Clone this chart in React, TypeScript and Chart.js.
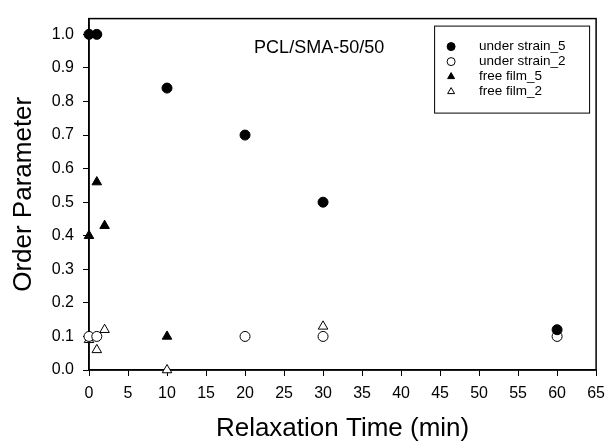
import React, { useEffect, useRef } from 'react';
import { Chart, registerables } from 'chart.js';
import { drawPoint } from 'chart.js/helpers';

Chart.register(...registerables);

const FONT = "'Liberation Sans', Arial, Helvetica, sans-serif";

const chartTitle = 'PCL/SMA-50/50';
const xAxisTitle = 'Relaxation Time (min)';
const yAxisTitle = 'Order Parameter';

const seriesNames = ['under strain_5', 'under strain_2', 'free film_5', 'free film_2'];

const underStrain5X = [0, 1, 10, 20, 30, 60];
const underStrain5Y = [1.0, 1.0, 0.84, 0.7, 0.5, 0.12];

const underStrain2X = [0, 1, 20, 30, 60];
const underStrain2Y = [0.1, 0.1, 0.1, 0.1, 0.1];

const freeFilm5X = [0, 1, 2, 10];
const freeFilm5Y = [0.4, 0.56, 0.43, 0.1];

const freeFilm2X = [0, 1, 2, 10, 30];
const freeFilm2Y = [0.09, 0.06, 0.12, 0.0, 0.13];

const xMin = 0;
const xMax = 65;
const xStep = 5;
const yMin = 0;
const yMax = 1.047;
const yStep = 0.1;

const toPoints = (xs: number[], ys: number[]) => xs.map((x, i) => ({ x, y: ys[i] }));

const framePlugin = {
  id: 'frame',
  beforeDatasetsDraw(chart: any) {
    const { ctx, chartArea } = chart;
    ctx.save();
    ctx.strokeStyle = '#000';
    ctx.lineWidth = 1.5;
    ctx.strokeRect(chartArea.left, chartArea.top, chartArea.right - chartArea.left, chartArea.bottom - chartArea.top);
    ctx.restore();
  },
};

const annotationPlugin = {
  id: 'annot',
  afterDraw(chart: any) {
    const { ctx, chartArea, scales } = chart;
    ctx.save();
    ctx.fillStyle = '#000';
    ctx.font = `18px ${FONT}`;
    ctx.textAlign = 'center';
    ctx.textBaseline = 'middle';
    ctx.fillText(chartTitle, scales.x.getPixelForValue(29.5), scales.y.getPixelForValue(0.96));

    const boxW = 155;
    const boxH = 87;
    const left = chartArea.right - 7 - boxW;
    const top = chartArea.top + 7;
    ctx.fillStyle = '#fff';
    ctx.fillRect(left, top, boxW, boxH);
    ctx.strokeStyle = '#000';
    ctx.lineWidth = 1;
    ctx.strokeRect(left + 0.5, top + 0.5, boxW, boxH);

    ctx.font = `13.5px ${FONT}`;
    ctx.textAlign = 'left';
    ctx.textBaseline = 'middle';
    chart.data.datasets.forEach((ds: any, i: number) => {
      const y = top + 21 + i * 15;
      ctx.save();
      ctx.fillStyle = ds.backgroundColor;
      ctx.strokeStyle = ds.borderColor;
      ctx.lineWidth = 1;
      drawPoint(ctx, { pointStyle: ds.pointStyle, radius: 4, rotation: 0, borderWidth: 1 }, left + 17, y);
      ctx.restore();
      ctx.fillStyle = '#000';
      ctx.fillText(ds.label, left + 45, y);
    });
    ctx.restore();
  },
};

export default function App() {
  const canvasRef = useRef<HTMLCanvasElement>(null);

  useEffect(() => {
    document.body.style.margin = '0';
    const canvas = canvasRef.current;
    if (!canvas) return;

    const common = { showLine: false, borderWidth: 1, pointBorderWidth: 1, clip: false };

    const chart = new Chart(canvas, {
      type: 'scatter',
      data: {
        datasets: [
          {
            ...common,
            label: seriesNames[0],
            data: toPoints(underStrain5X, underStrain5Y),
            pointStyle: 'circle',
            pointRadius: 5,
            backgroundColor: '#000',
            borderColor: '#000',
          },
          {
            ...common,
            label: seriesNames[1],
            data: toPoints(underStrain2X, underStrain2Y),
            pointStyle: 'circle',
            pointRadius: 5,
            backgroundColor: '#fff',
            borderColor: '#000',
          },
          {
            ...common,
            label: seriesNames[2],
            data: toPoints(freeFilm5X, freeFilm5Y),
            pointStyle: 'triangle',
            pointRadius: 5.5,
            backgroundColor: '#000',
            borderColor: '#000',
          },
          {
            ...common,
            label: seriesNames[3],
            data: toPoints(freeFilm2X, freeFilm2Y),
            pointStyle: 'triangle',
            pointRadius: 5.5,
            backgroundColor: '#fff',
            borderColor: '#000',
          },
        ] as any,
      },
      options: {
        responsive: false,
        animation: false,
        devicePixelRatio: 1,
        layout: { padding: { top: 13, right: 11, left: 0, bottom: 0 } },
        plugins: {
          legend: { display: false },
          tooltip: { enabled: false },
          title: { display: false },
        },
        scales: {
          x: {
            type: 'linear',
            min: xMin,
            max: xMax,
            afterFit: (scale: any) => {
              scale.height = 72;
            },
            ticks: {
              stepSize: xStep,
              color: '#000',
              font: { family: FONT, size: 16 },
              padding: 8,
              maxRotation: 0,
              autoSkip: false,
            },
            grid: {
              display: true,
              drawOnChartArea: false,
              drawTicks: true,
              tickLength: 6,
              tickColor: '#000',
              tickWidth: 1,
            },
            border: { display: true, color: '#000', width: 1.5 },
            title: {
              display: true,
              text: xAxisTitle,
              color: '#000',
              font: { family: FONT, size: 26, lineHeight: 1 },
              padding: { top: 0, bottom: 0 },
            },
          },
          y: {
            type: 'linear',
            min: yMin,
            max: yMax,
            afterFit: (scale: any) => {
              scale.width = 89;
            },
            ticks: {
              stepSize: yStep,
              includeBounds: false,
              color: '#000',
              font: { family: FONT, size: 16 },
              padding: 9,
              callback: (v: any) => Number(v).toFixed(1),
            },
            grid: {
              display: true,
              drawOnChartArea: false,
              drawTicks: true,
              tickLength: 6,
              tickColor: '#000',
              tickWidth: 1,
            },
            border: { display: true, color: '#000', width: 1.5 },
            title: {
              display: true,
              text: yAxisTitle,
              color: '#000',
              font: { family: FONT, size: 26, lineHeight: 1 },
              padding: { top: 11, bottom: 0 },
            },
          },
        },
      },
      plugins: [framePlugin, annotationPlugin],
    } as any);

    return () => chart.destroy();
  }, []);

  return (
    <div style={{ width: 613, height: 442 }}>
      <canvas ref={canvasRef} width={613} height={442} style={{ display: 'block' }} />
    </div>
  );
}
